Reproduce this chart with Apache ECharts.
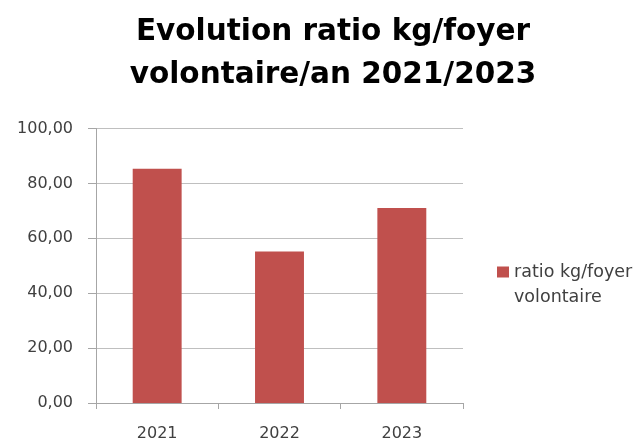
<!DOCTYPE html>
<html><head><meta charset="utf-8">
<script src="https://cdn.jsdelivr.net/npm/echarts@6/dist/echarts.min.js"></script>
<style>html,body{margin:0;padding:0;background:#fff}#c{width:644px;height:442px}</style>
</head><body><div id="c"></div>
<script>
const titleLines = ["Evolution ratio kg/foyer", "volontaire/an 2021/2023"];
const categories = ["2021", "2022", "2023"];
const seriesName = "ratio kg/foyer volontaire";
const legendLines = ["ratio kg/foyer", "volontaire"];
const values = [85.3, 55.2, 71.0];
const yTicks = { min: 0, max: 100, interval: 20 };

const chart = echarts.init(document.getElementById('c'), null, { renderer: 'canvas' });
const fmt = v => v.toFixed(2).replace('.', ',');
const labelFont = 'DejaVu Sans';
chart.setOption({
  animation: false,
  backgroundColor: '#ffffff',
  title: {
    text: titleLines.join('\n'),
    left: 328, top: 6, textAlign: 'center',
    textStyle: { fontFamily: 'DejaVu Sans', fontWeight: 'bold', fontSize: 29.5, lineHeight: 43, color: '#000' }
  },
  legend: {
    left: 492, top: 258, itemWidth: 12, itemHeight: 11,
    icon: 'rect',
    formatter: () => legendLines[0],
    textStyle: { fontFamily: labelFont, fontSize: 17.5, color: '#404040' }
  },
  graphic: [{
    type: 'text', left: 514, top: 288,
    style: { text: legendLines[1], font: '17.5px "DejaVu Sans"', fill: '#404040' }
  }],
  grid: { left: 96, right: 181, top: 128.5, bottom: 38.5, containLabel: false },
  xAxis: {
    type: 'category', data: categories,
    axisLine: { lineStyle: { color: '#a6a6a6' } },
    axisTick: { show: true, length: 6, lineStyle: { color: '#a6a6a6' } },
    axisLabel: { fontFamily: labelFont, fontSize: 16, color: '#404040', margin: 23 }
  },
  yAxis: {
    type: 'value', min: yTicks.min, max: yTicks.max, interval: yTicks.interval,
    axisLine: { show: true, lineStyle: { color: '#a6a6a6' } },
    axisTick: { show: true, length: 8, lineStyle: { color: '#a6a6a6' } },
    splitLine: { lineStyle: { color: '#bfbfbf' } },
    axisLabel: { fontFamily: labelFont, fontSize: 16, color: '#404040', margin: 23, formatter: fmt }
  },
  series: [{
    name: seriesName, type: 'bar', data: values,
    barWidth: '40%',
    itemStyle: { color: '#c0504d' }
  }]
});
</script></body></html>
